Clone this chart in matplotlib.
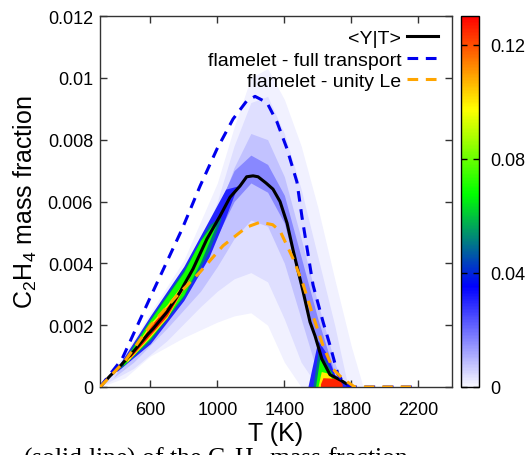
import numpy as np
import matplotlib
matplotlib.use("Agg")
import matplotlib.pyplot as plt
from matplotlib.colors import LinearSegmentedColormap, Normalize
from matplotlib.cm import ScalarMappable

plt.rcParams['font.family'] = ['Liberation Sans', 'DejaVu Sans']
plt.rcParams['mathtext.default'] = 'regular'

# conditional mean <Y|T>
mean_T = [300, 360, 431, 497, 586, 616, 700, 777, 855, 938, 1016, 1076, 1135, 1175,
          1213, 1243, 1290, 1332, 1374, 1416, 1453, 1511, 1553, 1583, 1624, 1672, 1742, 1800]
mean_Y = [0, 0.00036, 0.00074, 0.00113, 0.00171, 0.00188, 0.00243, 0.00307, 0.00382,
          0.00479, 0.00553, 0.00614, 0.0065, 0.0068, 0.00683, 0.0068, 0.0066, 0.0064,
          0.0060, 0.0053, 0.0044, 0.0031, 0.0021, 0.00165, 0.0009, 0.0004, 0.0002, 0]

# flamelet, full transport
full_T = [300, 431, 600, 789, 897, 998, 1094, 1175, 1225, 1296, 1356, 1416, 1475, 1505,
          1571, 1631, 1672, 1720, 1760, 1800, 2200]
full_Y = [0, 0.0009, 0.0029, 0.0051, 0.0065, 0.0077, 0.00867, 0.00925, 0.0094, 0.0092,
          0.00857, 0.0077, 0.00663, 0.0055, 0.0033, 0.0021, 0.00135, 0.0004, 0.0001, 0, 0]

# flamelet, unity Lewis number
unity_T = [300, 450, 598, 750, 897, 1034, 1175, 1255, 1330, 1374, 1453, 1511, 1571, 1631,
           1690, 1750, 1820, 2200]
unity_Y = [0, 0.00085, 0.00197, 0.0029, 0.00372, 0.00457, 0.00517, 0.00533, 0.00525,
           0.00505, 0.00414, 0.00333, 0.0023, 0.00133, 0.00058, 0.00026, 0, 0]

# joint pdf, stored as iso-level bands: (level, T, lower Y, upper Y)
pdf_bands = [
    (0.0012,
     [300, 450, 600, 800, 1000, 1100, 1200, 1300, 1400, 1500, 1600, 1700, 1800, 1870],
     [0, 0.0003, 0.0010, 0.0016, 0.0021, 0.0023, 0.0024, 0.0020, 0.0008, 0, 0, 0, 0, 0],
     [0, 0.0011, 0.0024, 0.0041, 0.0066, 0.0084, 0.0100, 0.0103, 0.0093, 0.0078, 0.0058,
      0.0035, 0.0013, 0]),
    (0.004,
     [330, 500, 700, 900, 1000, 1100, 1200, 1300, 1400, 1500, 1600, 1700, 1780],
     [0.0001, 0.0006, 0.0015, 0.0026, 0.0031, 0.0035, 0.0037, 0.0034, 0.0022, 0.0008,
      0, 0, 0],
     [0.0001, 0.0013, 0.0028, 0.0046, 0.0060, 0.0078, 0.0092, 0.0094, 0.0082, 0.0064,
      0.0042, 0.0020, 0]),
    (0.008,
     [380, 500, 700, 900, 1000, 1100, 1200, 1300, 1400, 1500, 1600, 1700, 1750],
     [0.0003, 0.0008, 0.0019, 0.0031, 0.0039, 0.0048, 0.0054, 0.0052, 0.0040, 0.0022,
      0.0004, 0, 0],
     [0.0003, 0.0013, 0.0027, 0.0043, 0.0056, 0.0071, 0.0082, 0.0080, 0.0068, 0.0048,
      0.0027, 0.0008, 0]),
    (0.016,
     [400, 600, 800, 1000, 1100, 1200, 1300, 1400, 1500, 1600, 1680, 1720],
     [0.0005, 0.0016, 0.0030, 0.0049, 0.0060, 0.0066, 0.0063, 0.0053, 0.0032, 0.0012,
      0.0002, 0],
     [0.0005, 0.0022, 0.0037, 0.0058, 0.0070, 0.0075, 0.0072, 0.0062, 0.0042, 0.0022,
      0.0008, 0]),
    (0.03,
     [400, 600, 800, 950, 1050, 1120],
     [0.0005, 0.0014, 0.0028, 0.0042, 0.0055, 0.0065],
     [0.0006, 0.0023, 0.0039, 0.0054, 0.0064, 0.0065]),
    (0.03,
     [1540, 1600, 1650, 1700, 1780],
     [0, 0, 0, 0, 0],
     [0, 0.0015, 0.0011, 0.0004, 0]),
    (0.05,
     [420, 600, 800, 950, 1020],
     [0.0006, 0.0015, 0.00292, 0.0044, 0.0054],
     [0.0007, 0.00222, 0.0038, 0.00525, 0.0055]),
    (0.05,
     [1570, 1600, 1640, 1690, 1740],
     [0, 0, 0, 0, 0],
     [0, 0.0011, 0.0009, 0.0004, 0]),
    (0.07,
     [440, 600, 800, 900, 990],
     [0.0007, 0.00157, 0.00298, 0.00405, 0.0052],
     [0.0008, 0.00217, 0.00372, 0.00475, 0.0054]),
    (0.07,
     [1585, 1610, 1650, 1700, 1730],
     [0, 0, 0, 0, 0],
     [0, 0.0009, 0.0007, 0.0003, 0]),
    (0.10,
     [460, 600, 700, 830],
     [0.0008, 0.00162, 0.00224, 0.0035],
     [0.0009, 0.00205, 0.00267, 0.0036]),
    (0.10,
     [1600, 1620, 1660, 1720],
     [0, 0, 0, 0],
     [0, 0.0005, 0.00045, 0]),
    (0.125,
     [480, 600, 700, 810],
     [0.00095, 0.00168, 0.0023, 0.0033],
     [0.001, 0.00197, 0.0026, 0.00335]),
    (0.125,
     [1615, 1630, 1720, 1745],
     [0, 0, 0, 0],
     [0.0001, 0.0003, 0.00028, 0.0001]),
]

y_ticks = [0, 0.002, 0.004, 0.006, 0.008, 0.01, 0.012]
y_labels = ['0', '0.002', '0.004', '0.006', '0.008', '0.01', '0.012']
x_ticks = [600, 1000, 1400, 1800, 2200]
cb_ticks = [0, 0.04, 0.08, 0.12]
cb_labels = ['0', '0.04', '0.08', '0.12']

pal = LinearSegmentedColormap.from_list(
    'pal', [(0, '#f8f8ff'), (0.27, '#0000ff'), (0.52, '#00ff00'),
            (0.75, '#ffff00'), (1, '#ff0000')])
norm = Normalize(0, 0.13)

fig = plt.figure(figsize=(5.3, 4.56), dpi=100)
ax = fig.add_axes([100 / 530, 68 / 456, 352 / 530, 371 / 456])
cax = fig.add_axes([461 / 530, 68 / 456, 18 / 530, 371 / 456])

for lev, bt, lo, hi in pdf_bands:
    ax.fill_between(bt, lo, hi, color=pal(norm(lev)), lw=0, zorder=1)

ax.plot(mean_T, mean_Y, color='black', lw=2.2, zorder=3, label='<Y|T>')
ax.plot(full_T, full_Y, color='#0000ee', lw=2.2, ls=(0, (3.5, 2.5)), zorder=4,
        label='flamelet - full transport')
ax.plot(unity_T, unity_Y, color='#ffa500', lw=2.2, ls=(0, (3.5, 2.5)), zorder=5,
        label='flamelet - unity Le')

ax.set_xlim(300, 2400)
ax.set_ylim(0, 0.012)
ax.set_xticks(x_ticks)
ax.set_yticks(y_ticks)
ax.set_yticklabels(y_labels)
ax.tick_params(direction='in', length=5, width=1, labelsize=13, top=True, right=True,
               color='#333333')
ax.tick_params(axis='x', pad=10)
ax.tick_params(axis='y', pad=5)
for s in ax.spines.values():
    s.set_color('#333333')
    s.set_linewidth(1)

ax.set_xlabel('T (K)', fontsize=18, labelpad=2)
ax.set_ylabel('C$_2$H$_4$ mass fraction', fontsize=18, labelpad=6)

ax.legend(loc='upper right', frameon=False, markerfirst=False, fontsize=14,
          handlelength=1.6, handletextpad=0.3, labelspacing=0.2,
          borderaxespad=0.3)

sm = ScalarMappable(norm=norm, cmap=pal)
cb = fig.colorbar(sm, cax=cax, ticks=cb_ticks)
cb.ax.set_yticklabels(cb_labels)
cb.outline.set_linewidth(1)
cax.yaxis.set_ticks_position('both')
cax.tick_params(direction='in', length=4, width=1, labelsize=13, pad=8,
                labelleft=False, labelright=True)

# caption line running below the figure
fig.text(23 / 530, -9 / 456, '(solid line) of the C$_2$H$_4$ mass fraction',
         family=['Liberation Serif', 'DejaVu Serif'], fontsize=18.5, va='baseline',
         ha='left')

fig.savefig('out.png', dpi=100)
